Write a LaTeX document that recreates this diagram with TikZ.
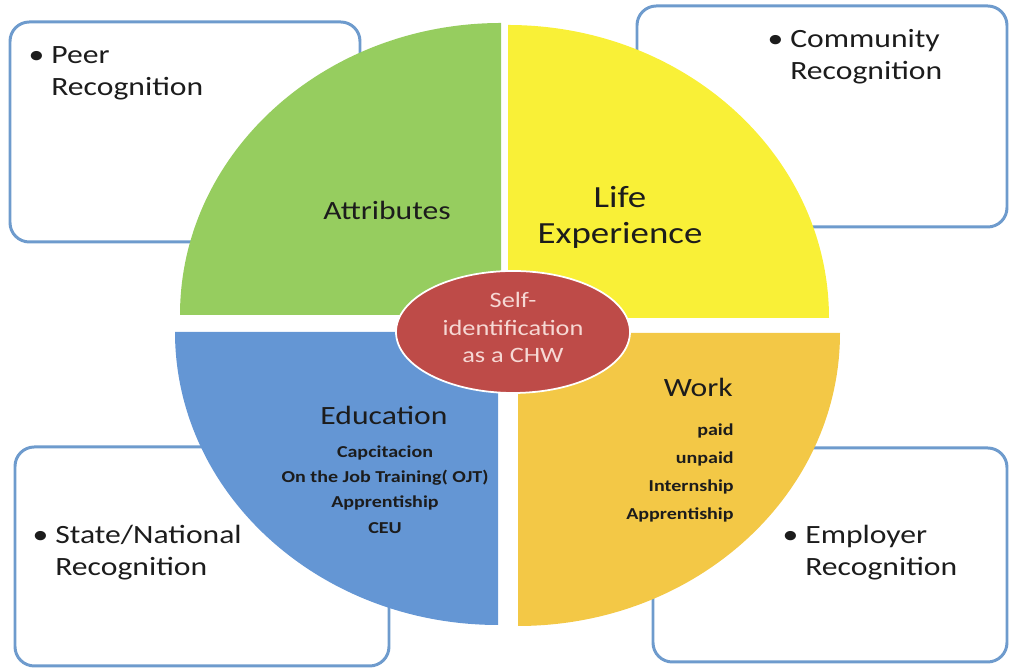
\documentclass[tikz,border=0pt]{standalone}
\usepackage{fontspec}
\setmainfont{Carlito}[FakeStretch=1.2]
\usetikzlibrary{positioning}

\definecolor{boxblue}{RGB}{110,155,205}
\definecolor{attrgreen}{RGB}{150,205,95}
\definecolor{lifeyellow}{RGB}{249,240,55}
\definecolor{edublue}{RGB}{100,150,212}
\definecolor{workorange}{RGB}{243,200,70}
\definecolor{selfred}{RGB}{190,75,72}
\definecolor{selfpink}{RGB}{246,216,212}
\definecolor{ink}{RGB}{28,28,28}

\tikzset{
  recbox/.style={draw=boxblue, line width=1.7pt, rounded corners=11pt},
  boxtext/.style={font=\fontsize{15}{18.2}\selectfont, align=left, inner sep=0pt, anchor=north west, text=ink},
  qlabel/.style={font=\fontsize{15}{18}\selectfont, inner sep=0pt, text=ink},
  items/.style={font=\fontsize{9.5}{#1}\selectfont\bfseries, inner sep=0pt, text=ink},
  selftext/.style={font=\fontsize{12.5}{15.65}\selectfont, align=center, inner sep=0pt, anchor=north, text=selfpink}
}
\newcommand{\bul}{\llap{\textbullet\hspace{4pt}}}

\begin{document}
\begin{tikzpicture}[x=0.02cm, y=0.02cm]
    \useasboundingbox (0,0) rectangle (1009,668);
    % Recognition boxes
    \draw[recbox] (10,426) rectangle (360,646);
    \draw[recbox] (637,441) rectangle (1007,662);
    \draw[recbox] (15,2) rectangle (389,221);
    \draw[recbox] (653,6) rectangle (1007,220);

    % Four quarters of the circle
    \fill[attrgreen] (501,353) -- ++(-321,0) arc[start angle=180, end angle=90, x radius=321, y radius=292] -- cycle;
    \fill[lifeyellow] (508,350) -- ++(0,293) arc[start angle=90, end angle=0, x radius=321, y radius=293] -- cycle;
    \fill[edublue] (498,336) -- ++(-323,0) arc[start angle=180, end angle=270, x radius=323, y radius=293] -- cycle;
    \fill[workorange] (518,335) -- ++(322,0) arc[start angle=0, end angle=-90, x radius=322, y radius=293] -- cycle;

    % Centre
    \draw[white, line width=1pt, fill=selfred] (513,336) ellipse [x radius=117, y radius=61];
    \node[selftext] (self) at (513,380) {Self-\strut\\identification\\as a CHW};

    % Box texts
    \node[boxtext] (peer) at (51,627) {\bul Peer\strut\\Recognition};
    \node[boxtext] (community) at (790,643) {\bul Community\strut\\Recognition};
    \node[boxtext] (state) at (55,147) {\bul State/National\strut\\Recognition};
    \node[boxtext] (employer) at (805,147) {\bul Employer\strut\\Recognition};

    % Quarter texts
    \node[qlabel, anchor=base] (attributes) at (387,448) {Attributes};
    \node[qlabel, font=\fontsize{17.5}{20.5}\selectfont, align=center, anchor=north] (life) at (620,486) {Life\strut\\Experience};
    \node[qlabel, anchor=base east] (work) at (733,271) {Work};
    \node[items=16pt, align=right, anchor=north east] (worklist) at (734,253) {paid\strut\\unpaid\\Internship\\Apprentiship};
    \node[qlabel, anchor=base] (education) at (384,243) {Education};
    \node[items=14.45pt, align=center, anchor=north] (edulist) at (385,229) {Capcitacion\strut\\On the Job Training( OJT)\\Apprentiship\\CEU};
\end{tikzpicture}
\end{document}
